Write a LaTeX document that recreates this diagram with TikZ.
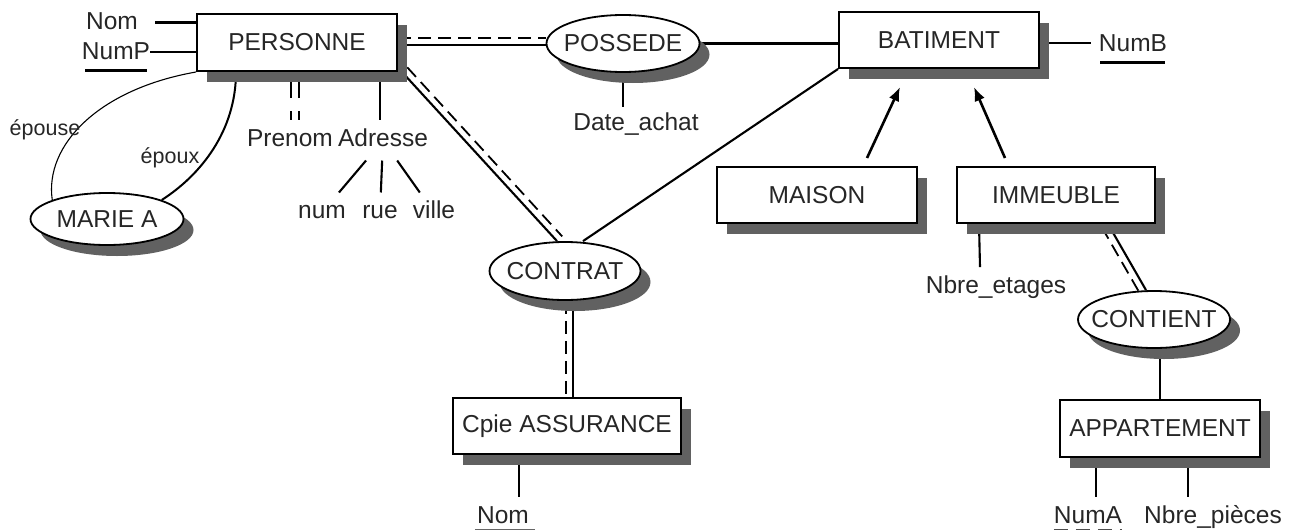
\documentclass[tikz,border=0pt]{standalone}
\usepackage{fontspec}
\setmainfont{Liberation Sans}
\usetikzlibrary{shapes.geometric,shadows,calc,arrows.meta}
\pgfdeclarelayer{bg}
\pgfsetlayers{bg,main}
\tikzset{
  txt/.style={font=\fontsize{24.5}{27}\selectfont, text=black!85},
  shad/.style={drop shadow={shadow xshift=10pt, shadow yshift=-11pt, fill=black!62, opacity=1}},
  ent/.style={txt, shad, draw, line width=2pt, fill=white, rectangle, minimum width=200pt, minimum height=57pt, inner sep=0pt},
  rel/.style={txt, shad, draw, line width=1.8pt, fill=white, ellipse, minimum width=153pt, minimum height=57pt, inner sep=0pt},
  attr/.style={txt, inner sep=0pt, text height=17.5pt, text depth=5pt},
  smallattr/.style={attr, font=\fontsize{21.5}{24}\selectfont},
  conn/.style={line width=2.1pt},
  dconn/.style={line width=1.8pt, dash pattern=on 13pt off 7pt},
  isa/.style={line width=2.6pt, -{Latex[length=14pt,width=11pt]}},
}
\begin{document}
\begin{tikzpicture}[x=1pt,y=-1pt]
\useasboundingbox (0,0) rectangle (1289,530);
% entities
\node[ent] (P) at (297,42.5) {PERSONNE};
\node[ent, minimum height=56pt] (B) at (939,40) {BATIMENT};
\node[ent, minimum height=56pt] (MA) at (817,195) {MAISON};
\node[ent, minimum width=198pt, minimum height=56pt] (IM) at (1056,195) {IMMEUBLE};
\node[ent, minimum width=228pt, minimum height=56pt] (CA) at (567,426) {Cpie ASSURANCE};
\node[ent] (AP) at (1160,428.5) {APPARTEMENT};
% relationships
\node[rel] (POS) at (623,43.5) {\makebox[0pt]{POSSEDE}};
\node[rel, minimum width=151pt, minimum height=58pt] (CT) at (565,271) {\makebox[0pt]{CONTRAT}};
\node[rel, minimum width=152pt] (CN) at (1154,319.5) {\makebox[0pt]{CONTIENT}};
\node[rel, minimum height=52pt] (MR) at (107,219) {\makebox[0pt]{MARIE A}};
% attributes and role labels
\node[attr] (nom1) at (112,23.5) {Nom};
\node[attr] (nump) at (116,53.5) {NumP};
\node[smallattr] (epse) at (45,129) {épouse};
\node[smallattr] (epx) at (170,157) {époux};
\node[attr] (pren) at (290,140.5) {Prenom};
\node[attr] (adr) at (383,140.5) {Adresse};
\node[attr] (num) at (322,212.5) {num};
\node[attr] (rue) at (380,212.5) {rue};
\node[attr] (ville) at (434,212.5) {ville};
\node[attr] (date) at (636,124.5) {Date\_achat};
\node[attr] (numb) at (1133,45.5) {NumB};
\node[attr] (netg) at (996,287.5) {Nbre\_etages};
\node[attr] (nomc) at (503,517.5) {Nom};
\node[attr] (numa) at (1088,517.5) {NumA};
\node[attr] (npi) at (1213,517.5) {Nbre\_pièces};
% underlines of identifiers
\draw[conn] ($(nump.south west)+(3.5,5.5)$) -- ($(nump.south east)+(-3.5,5.5)$);
\draw[conn] ($(numb.south west)+(1.5,5.5)$) -- ($(numb.south east)+(-2,5.5)$);
\draw[line width=1.2pt, black!60] ($(nomc.south west)+(-2,0.5)$) -- ($(nomc.south east)+(6,0.5)$);
\draw[line width=1.6pt, black!70, dash pattern=on 14pt off 8pt] ($(numa.south west)+(0,0.5)$) -- ($(numa.south east)+(0,0.5)$);

\begin{pgfonlayer}{bg}
% PERSONNE - POSSEDE
\draw[conn] ($(P.east)+(0,2.5)$) -- ($(POS.west)+(0,1.5)$);
\draw[dconn] ($(P.east)+(0,-4.5)$) -- ($(POS.west)+(0,-5.5)$);
% POSSEDE - BATIMENT
\draw[conn] (POS.east) -- (POS.east -| B.west);
% PERSONNE - CONTRAT
\draw[conn] ($(P.south east)+(4,0)$) -- ($(CT.north)+(-8,0)$);
\draw[dconn] ($(P.south east)+(9.2,-4.7)$) -- ($(CT.north)+(-2.8,-4.7)$);
% CONTRAT - BATIMENT
\draw[conn] ($(CT.north)+(18,0)$) -- (B.south west);
% CONTRAT - Cpie ASSURANCE
\draw[conn] ($(CT.south)+(8,0)$) -- ($(CA.north)+(6,0)$);
\draw[dconn] ($(CT.south)+(1,0)$) -- ($(CA.north)+(-1,0)$);
% IMMEUBLE - CONTIENT
\draw[conn] ($(IM.south)+(52,0)$) -- ($(CN.north)+(-8,0)$);
\draw[dconn] ($(IM.south)+(45.9,3.4)$) -- ($(CN.north)+(-14.1,3.4)$);
% CONTIENT - APPARTEMENT
\draw[conn] (AP.north |- CN.south) -- (AP.north);
% is-a arrows
\draw[isa] ($(MA.north)+(50,-8)$) -- ($(B.south)+(-39,18)$);
\draw[isa] ($(IM.north)+(-51,-8)$) -- ($(B.south)+(35,18)$);
% MARIE A roles
\draw[line width=1.1pt] (P.south west) .. controls ($(P.south west)+(-97,17)$) and ($(MR.north west)+(-8,-55)$) .. (MR.north west);
\draw[line width=2pt] ($(P.south west)+(40,0)$) .. controls ($(P.south west)+(40,59)$) and ($(MR.north east)+(39,-25)$) .. (MR.north east);
% attributes of PERSONNE
\coordinate (a1) at ($(nom1.east)+(17,-1)$);
\draw[conn] (a1) -- (a1 -| P.west);
\coordinate (a2) at ($(nump.east)+(0,-1.5)$);
\draw[conn] (a2) -- (a2 -| P.west);
\draw[line width=1.6pt, dash pattern=on 26pt off 13pt] ($(P.south)+(-6,0)$) -- ($(pren.north)+(1,-9.5)$);
\draw[line width=1.6pt, dash pattern=on 26pt off 13pt] ($(P.south)+(2,0)$) -- ($(pren.north)+(9,-9.5)$);
\draw[conn] ($(P.south)+(83,0)$) -- ($(adr.north)+(-3,-9.5)$);
\draw[conn] ($(adr)!.278!(num)$) -- ($(adr)!.722!(num)$);
\draw[conn] ($(adr)!.278!(rue)$) -- ($(adr)!.722!(rue)$);
\draw[conn] ($(adr)!.278!(ville)$) -- ($(adr)!.722!(ville)$);
% other attributes
\draw[conn] (POS.south) -- ($(POS.south |- date.north)+(0,-6)$);
\draw[conn] ($(B.east)+(0,3)$) -- ($(numb.west)+(-8,-2.5)$);
\draw[conn] ($(IM.south west)+(23,0)$) -- ($(netg.north)+(-16,-9)$);
\draw[conn] ($(CA.south)+(-48,0)$) -- ($(nomc.north)+(16,-9)$);
\draw[conn] ($(AP.south)+(-64,0)$) -- ($(numa.north)+(8,-9)$);
\draw[conn] ($(AP.south)+(28,0)$) -- ($(npi.north)+(-25,-9)$);
\end{pgfonlayer}
\end{tikzpicture}
\end{document}
